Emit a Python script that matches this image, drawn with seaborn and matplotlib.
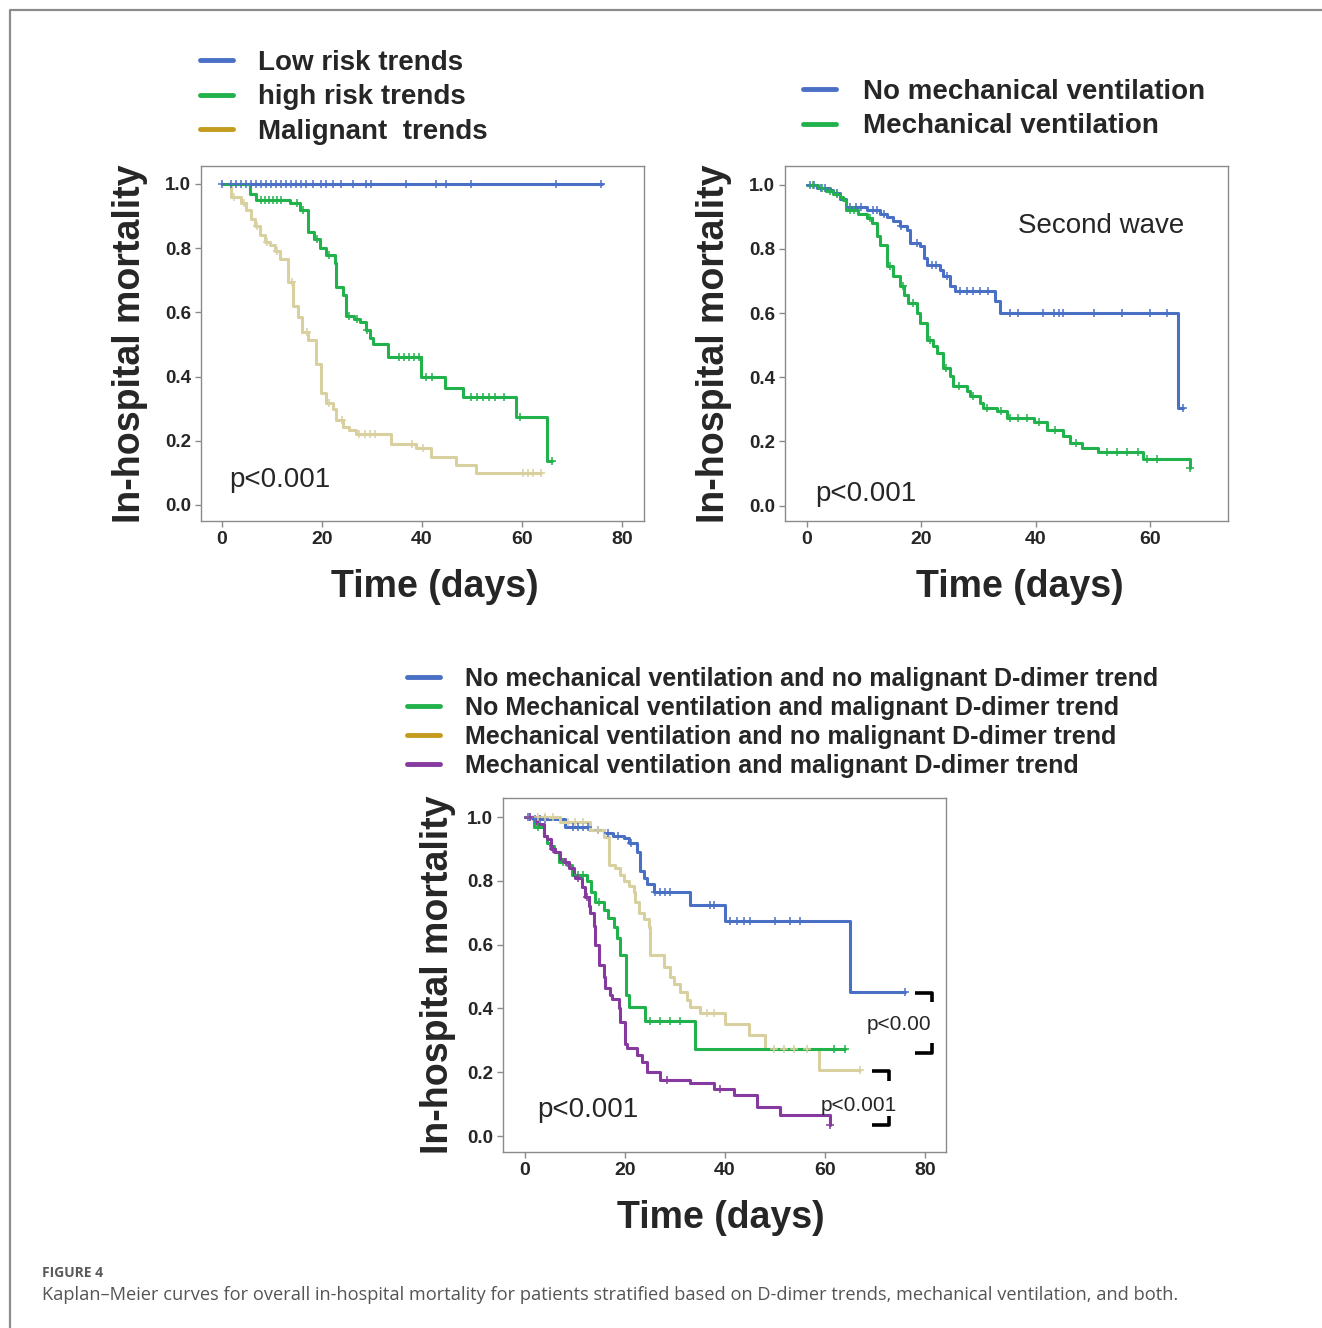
import numpy as np
import pandas as pd
import matplotlib
matplotlib.use("Agg")
import matplotlib.pyplot as plt
from matplotlib.lines import Line2D
import seaborn as sns

# ---------------- DATA ----------------
# Panel A: D-dimer trends
a_low_t = [0, 76]
a_low_s = [1.0, 1.0]
a_low_c = [0, 1.9, 2.9, 3.9, 4.9, 5.9, 6.9, 7.9, 8.9, 9.9, 10.9, 11.9, 12.9, 13.9, 14.9,
           15.9, 16.9, 18.3, 19.9, 20.9, 22.3, 23.9, 26.3, 28.9, 29.9, 36.9, 42.9, 44.9,
           49.9, 66.9, 75.9]
a_high_t = [0, 5.6, 6.9, 13.6, 15.6, 17.3, 18.5, 19.6, 20.9, 22.6, 22.9, 24.3, 24.9, 26.5,
            27.6, 28.8, 29.6, 30.3, 33.3, 39.9, 44.6, 48.3, 58.9, 65.1, 66.1]
a_high_s = [1.0, 0.97, 0.95, 0.94, 0.92, 0.85, 0.83, 0.80, 0.78, 0.754, 0.68, 0.654, 0.59,
            0.58, 0.57, 0.545, 0.52, 0.50, 0.462, 0.40, 0.365, 0.337, 0.273, 0.138, 0.138]
a_high_c = [7.8, 8.6, 9.4, 10.2, 11.0, 11.8, 15.0, 16.2, 19.0, 21.5, 25.5, 27.0, 29.0, 35.5,
            36.5, 37.5, 38.5, 39.4, 40.8, 42.0, 49.8, 51.0, 52.2, 53.4, 54.6, 56.5, 59.6, 66.1]
a_mal_t = [0, 1.9, 3.9, 4.9, 5.8, 6.6, 7.6, 8.6, 9.6, 10.6, 11.6, 13.3, 14.3, 15.3, 16.0,
           17.3, 18.9, 19.9, 20.9, 22.3, 22.9, 24.3, 25.5, 26.9, 33.9, 38.9, 41.9, 46.9,
           50.9, 63.9]
a_mal_s = [1.0, 0.96, 0.94, 0.92, 0.89, 0.87, 0.84, 0.82, 0.81, 0.79, 0.765, 0.695, 0.62,
           0.587, 0.54, 0.514, 0.44, 0.348, 0.318, 0.30, 0.265, 0.244, 0.235, 0.221, 0.19,
           0.178, 0.15, 0.125, 0.10, 0.10]
a_mal_c = [2.5, 4.4, 7.0, 9.0, 11.0, 14.0, 17.0, 21.5, 24.0, 27.5, 28.6, 29.6, 30.6, 38.0,
           40.2, 60.3, 61.3, 62.3, 63.9]

# Panel B: mechanical ventilation (second wave)
b_nomv_t = [0, 1.7, 4.0, 4.6, 5.8, 6.9, 10.4, 12.8, 14.0, 15.1, 16.2, 17.4, 18.0, 19.8,
            20.5, 20.9, 23.3, 23.8, 25.0, 25.9, 32.9, 33.7, 64.9, 65.8]
b_nomv_s = [1.0, 0.99, 0.984, 0.975, 0.955, 0.93, 0.92, 0.91, 0.90, 0.886, 0.87, 0.86,
            0.818, 0.81, 0.77, 0.75, 0.735, 0.714, 0.683, 0.67, 0.636, 0.60, 0.304, 0.304]
b_nomv_c = [0.5, 1.2, 2.5, 3.2, 5.2, 7.5, 8.5, 9.5, 11.5, 12.2, 13.5, 16.5, 19.2, 21.8, 22.6,
            24.4, 26.7, 27.9, 29.1, 30.2, 31.7, 35.5, 36.9, 41.3, 43.1, 44.0, 44.8, 50.1,
            55.0, 60.0, 62.9, 65.8]
b_mv_t = [0, 2.0, 3.4, 4.6, 5.8, 6.35, 6.9, 9.0, 10.4, 11.3, 12.2, 12.8, 13.9, 15.1, 16.3,
          17.0, 17.7, 19.2, 19.8, 20.9, 22.1, 22.7, 23.8, 25.0, 25.6, 27.9, 28.5, 30.2,
          30.8, 33.2, 34.9, 39.6, 41.9, 44.8, 46.0, 48.0, 50.9, 58.8, 67.0]
b_mv_s = [1.0, 0.99, 0.98, 0.97, 0.96, 0.953, 0.92, 0.907, 0.897, 0.88, 0.84, 0.813,
          0.745, 0.714, 0.683, 0.655, 0.63, 0.60, 0.57, 0.517, 0.496, 0.476, 0.43, 0.403,
          0.372, 0.356, 0.34, 0.32, 0.304, 0.294, 0.273, 0.26, 0.237, 0.216, 0.195, 0.18,
          0.166, 0.146, 0.117]
b_mv_c = [1.0, 2.7, 4.0, 5.2, 7.5, 8.2, 11.0, 14.5, 16.8, 18.5, 21.5, 24.3, 26.5, 29.0,
          31.5, 33.9, 35.5, 36.9, 38.4, 40.5, 43.3, 47.0, 52.4, 54.2, 55.9, 57.9, 59.4,
          61.1, 67.0]

# Panel C: ventilation x D-dimer trend
c_blue_t = [0, 1.5, 8.0, 13.0, 15.7, 17.5, 19.7, 20.8, 22.3, 23.0, 23.7, 24.4, 25.7, 33.0,
            40.0, 64.9, 76.0]
c_blue_s = [1.0, 0.995, 0.97, 0.96, 0.95, 0.94, 0.934, 0.92, 0.89, 0.83, 0.81, 0.79, 0.766,
            0.724, 0.675, 0.452, 0.452]
c_blue_c = [0.5, 1.0, 2.0, 3.0, 4.0, 9.5, 10.5, 11.5, 12.5, 14.5, 16.5, 18.5, 21.2, 26.0,
            27.0, 28.0, 29.0, 37.0, 37.7, 41.0, 42.3, 43.7, 45.0, 50.0, 53.0, 55.0, 76.0]
c_nomv_mal_t = [0, 1.7, 3.7, 4.4, 5.0, 5.8, 6.7, 8.3, 9.3, 12.3, 13.2, 14.0, 15.7, 16.5,
                17.7, 18.3, 19.0, 20.2, 20.7, 24.0, 34.0, 64.0]
c_nomv_mal_s = [1.0, 0.97, 0.94, 0.92, 0.91, 0.89, 0.86, 0.85, 0.818, 0.80, 0.766, 0.734,
                0.708, 0.683, 0.656, 0.62, 0.567, 0.442, 0.405, 0.36, 0.272, 0.272]
c_nomv_mal_c = [2.5, 7.5, 10.5, 11.5, 14.8, 25.0, 27.0, 29.0, 31.0, 61.7, 64.0]
c_mv_nomal_t = [0, 6.9, 13.0, 15.7, 16.7, 18.0, 19.0, 19.7, 20.7, 21.7, 22.0, 22.8, 23.7,
                24.7, 25.0, 27.7, 29.0, 29.7, 31.0, 32.3, 33.0, 35.0, 40.0, 44.7, 48.0, 58.7,
                67.0]
c_mv_nomal_s = [1.0, 0.985, 0.96, 0.938, 0.85, 0.84, 0.82, 0.80, 0.785, 0.766, 0.734, 0.70,
                0.68, 0.656, 0.567, 0.53, 0.50, 0.476, 0.452, 0.426, 0.405, 0.385, 0.35,
                0.317, 0.273, 0.207, 0.207]
c_mv_nomal_c = [1.0, 2.5, 4.0, 5.5, 8.5, 10.0, 11.5, 14.5, 36.3, 37.7, 49.7, 51.7, 53.7,
                56.3, 67.0]
c_mv_mal_t = [0, 2.3, 3.7, 4.3, 5.2, 6.0, 7.0, 7.7, 8.7, 9.7, 10.0, 11.3, 12.0, 12.7, 13.0,
              13.7, 14.0, 14.7, 15.7, 16.0, 17.0, 17.3, 18.7, 19.0, 20.0, 20.3, 22.3, 23.3,
              24.3, 27.0, 33.0, 37.7, 41.7, 46.3, 51.0, 61.0]
c_mv_mal_s = [1.0, 0.98, 0.94, 0.93, 0.90, 0.89, 0.87, 0.86, 0.84, 0.82, 0.81, 0.78, 0.75,
              0.72, 0.70, 0.66, 0.60, 0.536, 0.5, 0.464, 0.442, 0.43, 0.40, 0.358, 0.29,
              0.276, 0.254, 0.233, 0.20, 0.176, 0.165, 0.147, 0.128, 0.092, 0.066, 0.034]
c_mv_mal_c = [1.0, 5.6, 8.2, 10.6, 12.3, 28.3, 39.0, 61.0]

legend_a = ["Low risk trends", "high risk trends", "Malignant  trends"]
legend_b = ["No mechanical ventilation", "Mechanical ventilation"]
legend_c = ["No mechanical ventilation and no malignant D-dimer trend",
            "No Mechanical ventilation and malignant D-dimer trend",
            "Mechanical ventilation and no malignant D-dimer trend",
            "Mechanical ventilation and malignant D-dimer trend"]
yticks = [0.0, 0.2, 0.4, 0.6, 0.8, 1.0]
xticks_a = [0, 20, 40, 60, 80]
xticks_b = [0, 20, 40, 60]
xticks_c = [0, 20, 40, 60, 80]

# ---------------- STYLE ----------------
BLUE = "#4a70c6"
GREEN = "#22b24c"
TAN = "#d9d0a0"
GOLD = "#c39b1e"
PURPLE = "#86399e"
SPINE = "#8a8a8a"

sns.set_style("white")
plt.rcParams["font.family"] = ["Liberation Sans", "DejaVu Sans"]

fig = plt.figure(figsize=(13.22, 13.28), dpi=100)
W, H = 1322, 1328


def axes_px(left, top, right, bottom):
    return fig.add_axes([left / W, 1 - bottom / H, (right - left) / W, (bottom - top) / H])


def km(ax, t, s, cens, color, lw=2.2):
    t = np.asarray(t, float)
    s = np.asarray(s, float)
    df = pd.DataFrame({"t": t, "s": s})
    sns.lineplot(data=df, x="t", y="s", drawstyle="steps-post", color=color, lw=lw,
                 estimator=None, sort=False, ax=ax, legend=False)
    cens = np.asarray(cens, float)
    idx = np.clip(np.searchsorted(t, cens, side="right") - 1, 0, len(s) - 1)
    cdf = pd.DataFrame({"t": cens, "s": s[idx]})
    sns.scatterplot(data=cdf, x="t", y="s", marker="+", color=color, s=38, linewidth=1.1,
                    ax=ax, legend=False, zorder=3)


def style_ax(ax, xlim, xticks, ylim, xlab_x=0.5):
    ax.set_xlim(*xlim)
    ax.set_ylim(*ylim)
    ax.set_xticks(xticks)
    ax.set_yticks(yticks)
    ax.set_xticklabels([str(v) for v in xticks], fontsize=14, fontweight="bold")
    ax.set_yticklabels([f"{v:.1f}" for v in yticks], fontsize=13.5, fontweight="bold")
    for sp in ax.spines.values():
        sp.set_color(SPINE)
        sp.set_linewidth(1.0)
    ax.tick_params(axis="both", which="both", direction="out", length=4, width=1,
                   color=SPINE, left=True, bottom=True, pad=3)
    ax.set_xlabel("Time (days)", fontsize=27, fontweight="bold", labelpad=15)
    ax.xaxis.label.set_x(xlab_x)
    ax.set_ylabel("In-hospital mortality", fontsize=27, fontweight="bold", labelpad=12)


# Panel A
axA = axes_px(201, 166, 644, 521)
km(axA, a_low_t, a_low_s, a_low_c, BLUE)
km(axA, a_mal_t, a_mal_s, a_mal_c, TAN)
km(axA, a_high_t, a_high_s, a_high_c, GREEN)
style_ax(axA, (-4.2, 84.4), xticks_a, (-0.05, 1.056), xlab_x=0.527)
axA.text(0.063, 0.096, "p<0.001", transform=axA.transAxes, fontsize=20)

# Panel B
axB = axes_px(785, 166, 1228, 521)
km(axB, b_nomv_t, b_nomv_s, b_nomv_c, BLUE)
km(axB, b_mv_t, b_mv_s, b_mv_c, GREEN)
style_ax(axB, (-3.85, 73.6), xticks_b, (-0.048, 1.058), xlab_x=0.530)
axB.text(0.526, 0.811, "Second wave", transform=axB.transAxes, fontsize=20)
axB.text(0.068, 0.056, "p<0.001", transform=axB.transAxes, fontsize=20)

# Panel C
axC = axes_px(503, 798, 946, 1152)
km(axC, c_blue_t, c_blue_s, c_blue_c, BLUE)
km(axC, c_mv_nomal_t, c_mv_nomal_s, c_mv_nomal_c, TAN)
km(axC, c_nomv_mal_t, c_nomv_mal_s, c_nomv_mal_c, GREEN)
km(axC, c_mv_mal_t, c_mv_mal_s, c_mv_mal_c, PURPLE)
style_ax(axC, (-4.4, 84.2), xticks_c, (-0.05, 1.06), xlab_x=0.491)
axC.yaxis.labelpad = 8
axC.text(0.077, 0.099, "p<0.001", transform=axC.transAxes, fontsize=20)
axC.text(0.822, 0.345, "p<0.00", transform=axC.transAxes, fontsize=15)
axC.text(0.716, 0.116, "p<0.001", transform=axC.transAxes, fontsize=15)
# significance brackets
for (x0, x1, ytop, ytop2, ybot2, ybot) in [(0.930, 0.968, 0.449, 0.424, 0.308, 0.280),
                                           (0.833, 0.871, 0.229, 0.201, 0.102, 0.076)]:
    axC.plot([x0, x1, x1], [ytop, ytop, ytop2], transform=axC.transAxes, color="black",
             lw=2.6, clip_on=False, solid_capstyle="butt")
    axC.plot([x0, x1, x1], [ybot, ybot, ybot2], transform=axC.transAxes, color="black",
             lw=2.6, clip_on=False, solid_capstyle="butt")

# Legends
def make_legend(labels, colors, anchor, fontsize, spacing, textpad, hlen, lw):
    handles = [Line2D([], [], color=c, lw=lw) for c in colors]
    fig.legend(handles, labels, loc="upper left", bbox_to_anchor=anchor,
               bbox_transform=fig.transFigure, frameon=False, borderpad=0,
               borderaxespad=0, handlelength=hlen, handletextpad=textpad,
               labelspacing=spacing, prop={"family": "Liberation Sans", "weight": "bold",
                                           "size": fontsize})

make_legend(legend_a, [BLUE, GREEN, GOLD], (200 / W, 1 - 50 / H), 20, 0.30, 0.9, 1.2, 3.5)
make_legend(legend_b, [BLUE, GREEN], (803 / W, 1 - 79 / H), 20, 0.30, 0.95, 1.2, 3.5)
make_legend(legend_c, [BLUE, GREEN, GOLD, PURPLE], (407 / W, 1 - 667 / H), 18, 0.20, 1.0,
            1.32, 3.5)

# Page frame (top and left rule)
fig.add_artist(Line2D([10 / W, 10 / W, 1.0], [0.0, 1 - 10 / H, 1 - 10 / H],
                      transform=fig.transFigure, color="#8c8c8c", lw=1.6))

# Caption
fig.text(42 / W, 1 - 1277 / H, "FIGURE 4", fontsize=10, fontweight="bold", color="#5a5a5a",
         family=["Open Sans", "DejaVu Sans"])
fig.text(42 / W, 1 - 1300 / H,
         "Kaplan\u2013Meier curves for overall in-hospital mortality for patients stratified "
         "based on D-dimer trends, mechanical ventilation, and both.",
         fontsize=13.15, color="#555555", family=["Open Sans", "DejaVu Sans"])

fig.savefig("out.png", dpi=100, facecolor="white")
